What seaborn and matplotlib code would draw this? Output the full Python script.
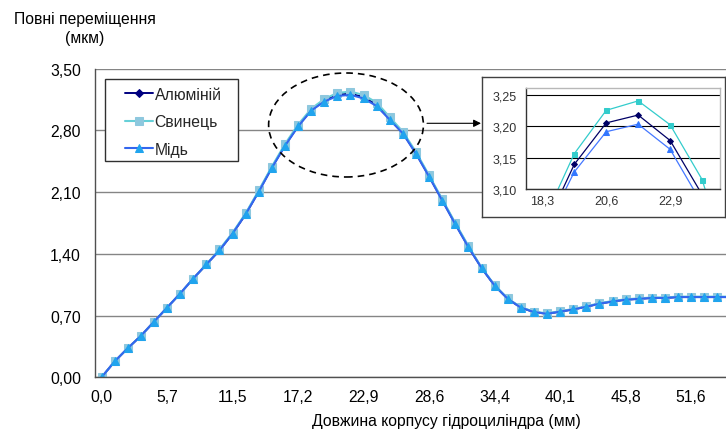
import numpy as np
import pandas as pd
import matplotlib
matplotlib.use("Agg")
import matplotlib.pyplot as plt
import seaborn as sns
from matplotlib.patches import Ellipse, Rectangle

# ---------------- data ----------------
series_names = ["Алюміній", "Свинець", "Мідь"]

aluminium = [0.00, 0.18, 0.33, 0.47, 0.63, 0.79, 0.95, 1.12, 1.28, 1.44,
             1.63, 1.85, 2.11, 2.38, 2.63, 2.85, 3.03, 3.139, 3.205, 3.2175,
             3.177, 3.091, 2.93, 2.77, 2.54, 2.28, 2.01, 1.74, 1.48, 1.24,
             1.04, 0.89, 0.79, 0.74, 0.72, 0.745, 0.77, 0.80, 0.835, 0.86,
             0.88, 0.89, 0.90, 0.90, 0.91, 0.91, 0.91, 0.91, 0.91]
lead = [0.00, 0.18, 0.33, 0.47, 0.63, 0.79, 0.95, 1.12, 1.28, 1.45,
        1.64, 1.86, 2.12, 2.39, 2.645, 2.865, 3.045, 3.156, 3.225, 3.240,
        3.202, 3.115, 2.95, 2.785, 2.555, 2.29, 2.02, 1.75, 1.49, 1.245,
        1.045, 0.895, 0.795, 0.745, 0.725, 0.75, 0.775, 0.805, 0.84, 0.865,
        0.885, 0.895, 0.905, 0.905, 0.915, 0.915, 0.915, 0.915, 0.915]
copper = [0.00, 0.18, 0.33, 0.47, 0.63, 0.79, 0.95, 1.12, 1.28, 1.44,
          1.63, 1.85, 2.105, 2.375, 2.625, 2.845, 3.025, 3.127, 3.191, 3.203,
          3.163, 3.076, 2.92, 2.765, 2.535, 2.275, 2.005, 1.735, 1.475, 1.24,
          1.04, 0.89, 0.79, 0.74, 0.72, 0.745, 0.77, 0.80, 0.835, 0.86,
          0.88, 0.89, 0.90, 0.90, 0.91, 0.91, 0.91, 0.91, 0.91]

x_tick_labels = ["0,0", "5,7", "11,5", "17,2", "22,9", "28,6", "34,4",
                 "40,1", "45,8", "51,6"]
y_ticks = [0.0, 0.70, 1.40, 2.10, 2.80, 3.50]
y_tick_labels = ["0,00", "0,70", "1,40", "2,10", "2,80", "3,50"]

inset_x_labels = ["18,3", "20,6", "22,9"]
inset_y_ticks = [3.10, 3.15, 3.20, 3.25]
inset_y_labels = ["3,10", "3,15", "3,20", "3,25"]

idx = np.arange(len(aluminium))
df = pd.DataFrame({"idx": np.concatenate([idx, idx, idx]),
                   "val": aluminium + lead + copper,
                   "series": np.repeat(series_names, len(idx))})

# ---------------- style ----------------
sns.set_theme(style="white")
plt.rcParams["font.family"] = ["Liberation Sans", "DejaVu Sans"]

W, H = 726, 435
FS = 11.3
fig = plt.figure(figsize=(W / 100, H / 100), dpi=100)


def fx(px):
    return px / W


def fy(py):
    return 1 - py / H


main_style = {
    "Алюміній": dict(color="#000080", marker="D", ms=4.0, mfc="#000080", mec="#000080", lw=1.4),
    "Свинець": dict(color="#66d0d8", marker="s", ms=5.4, mfc="#8ec8de", mec="#8ec8de", lw=1.5),
    "Мідь": dict(color="#3366ee", marker="^", ms=6.0, mfc="#20a4ee", mec="#20a4ee", lw=1.5),
}
inset_style = {
    "Алюміній": dict(color="#000066", marker="D", ms=3.0, mfc="#000066", mec="#000066", lw=0.9),
    "Свинець": dict(color="#33cccc", marker="s", ms=3.6, mfc="#33cccc", mec="#33cccc", lw=0.9),
    "Мідь": dict(color="#4477ff", marker="^", ms=4.0, mfc="#3377ff", mec="#3377ff", lw=0.9),
}

# ---------------- main axes ----------------
x0_px, step_px = 100.7, 13.12
ax = fig.add_axes([fx(95), fy(378.3), fx(726 - 95), (378.3 - 69.7) / H])
for name in series_names:
    st = main_style[name]
    sub = df[df["series"] == name]
    sns.lineplot(data=sub, x="idx", y="val", ax=ax, color=st["color"], lw=st["lw"],
                 marker=st["marker"], markersize=st["ms"], markerfacecolor=st["mfc"],
                 markeredgecolor=st["mec"], label=name, clip_on=True)

ax.set_xlabel("")
ax.set_ylabel("")
ax.set_yticks(y_ticks)
ax.set_yticklabels(y_tick_labels)
ax.set_xticks(np.arange(0, 50, 5)[:len(x_tick_labels)])
ax.set_xticklabels(x_tick_labels)
ax.set_xticks(np.arange(-0.5, 48, 1), minor=True)
ax.set_xlim(-0.5, (726 - x0_px) / step_px)
ax.set_ylim(0, 3.5)
ax.tick_params(axis="x", which="major", length=0, pad=8.5, labelsize=FS, colors="black")
ax.tick_params(axis="x", which="minor", length=3.6, width=0.9, color="#505050", direction="out")
ax.tick_params(axis="y", which="major", length=3.6, width=0.9, color="#505050",
               direction="out", pad=6.5, labelsize=FS, labelcolor="black")
ax.yaxis.grid(True, color="#858585", lw=1.0)
ax.xaxis.grid(False)
ax.set_axisbelow(True)
for s in ["top", "right"]:
    ax.spines[s].set_visible(False)
for s in ["left", "bottom"]:
    ax.spines[s].set_color("#505050")
    ax.spines[s].set_linewidth(1.0)

# legend: frame drawn separately for Excel-like padding
frame = Rectangle((fx(105), fy(162)), fx(238 - 105), (162 - 80) / H,
                  transform=fig.transFigure, facecolor="white",
                  edgecolor="#303030", lw=1.0, zorder=5)
ax.add_artist(frame)
frame.set_clip_on(False)
leg = ax.legend(loc="upper left", bbox_to_anchor=(fx(124.5), fy(87.5)),
                bbox_transform=fig.transFigure, borderaxespad=0, frameon=False,
                fontsize=FS, handlelength=1.8, handletextpad=0.12,
                labelspacing=0.8, borderpad=0)
leg.set_zorder(6)

# dashed ellipse around peak (data coords of main axes)
ell = Ellipse(((345.5 - x0_px) / step_px, (378.3 - 126) / 88.17),
              width=155 / step_px, height=104 / 88.17, fill=False,
              ls=(0, (4, 3)), lw=1.2, color="black", clip_on=False, zorder=6)
ax.add_patch(ell)

# arrow
ax.annotate("", xy=(fx(481), fy(124.3)), xytext=(fx(427), fy(124.3)),
            xycoords="figure fraction", textcoords="figure fraction",
            arrowprops=dict(arrowstyle="-|>", color="black", lw=0.8,
                            mutation_scale=11, shrinkA=0, shrinkB=0))

# texts
fig.text(fx(84.5), fy(19.5), "Повні переміщення", ha="center", va="center",
         fontsize=FS, color="black")
fig.text(fx(85), fy(38.5), "(мкм)", ha="center", va="center",
         fontsize=FS, color="black")
fig.text(fx(446.5), fy(422), "Довжина корпусу гідроциліндра (мм)", ha="center",
         va="center", fontsize=FS, color="black")

# ---------------- inset ----------------
bx = fig.add_axes([fx(482), fy(218), fx(725 - 482), (218 - 78) / H], zorder=3)
bx.set_facecolor("white")
bx.set_xticks([])
bx.set_yticks([])
for s in bx.spines.values():
    s.set_color("#404040")
    s.set_linewidth(1.0)

ix = fig.add_axes([fx(526.3), fy(190), fx(719.7 - 526.3), (190 - 89.3) / H], zorder=4)
ix.set_facecolor("white")
for name in series_names:
    st = inset_style[name]
    sub = df[df["series"] == name]
    sns.lineplot(data=sub, x="idx", y="val", ax=ix, color=st["color"], lw=st["lw"],
                 marker=st["marker"], markersize=st["ms"], markerfacecolor=st["mfc"],
                 markeredgecolor=st["mec"], legend=False)
ix.set_xlabel("")
ix.set_ylabel("")
ix.set_yticks(inset_y_ticks)
ix.set_yticklabels(inset_y_labels)
ix.set_xticks([16, 18, 20])
ix.set_xticklabels(inset_x_labels)
ix.set_xticks(np.arange(15.5, 21.6, 1), minor=True)
ix.set_xlim(15.5, 21.55)
ix.set_ylim(3.10, 3.26)
ix.tick_params(axis="x", which="major", length=0, pad=4, labelsize=9, colors="#333333")
ix.tick_params(axis="x", which="minor", length=3, width=0.8, color="#333333", direction="out")
ix.tick_params(axis="y", which="major", length=3, width=0.8, color="#333333",
               direction="out", pad=4, labelsize=9, labelcolor="#333333")
ix.yaxis.grid(True, color="black", lw=0.8)
ix.xaxis.grid(False)
ix.set_axisbelow(True)
for s in ["top", "right"]:
    ix.spines[s].set_color("#b8b8b8")
    ix.spines[s].set_linewidth(1.0)
for s in ["left", "bottom"]:
    ix.spines[s].set_color("#333333")
    ix.spines[s].set_linewidth(1.0)

fig.savefig("out.png", dpi=100)
